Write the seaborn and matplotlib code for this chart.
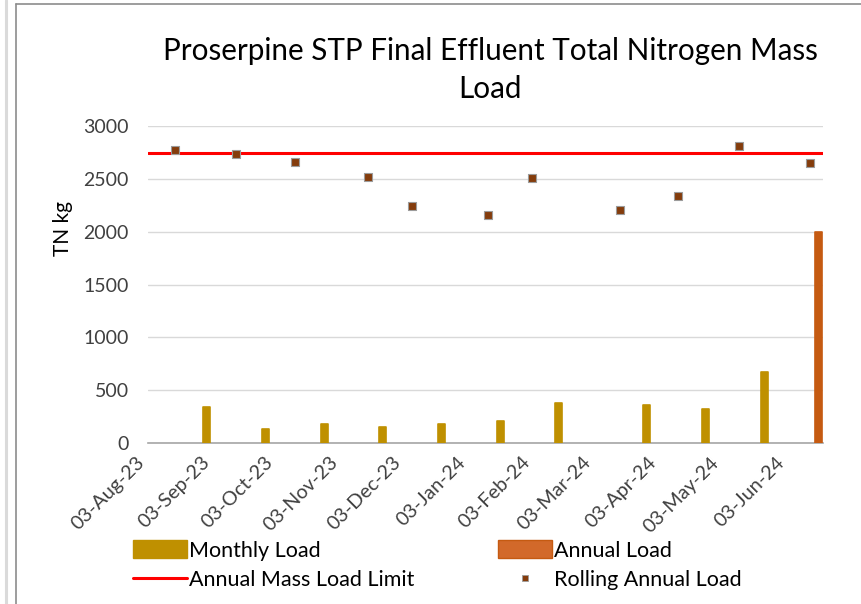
import matplotlib
matplotlib.use("Agg")
import matplotlib.pyplot as plt
import matplotlib.dates as mdates
import matplotlib.transforms as mtransforms
from matplotlib.lines import Line2D
from matplotlib.patches import Patch
import pandas as pd
import seaborn as sns

# monthly loads (TN kg)
monthly_dates = ["2023-08-31", "2023-09-28", "2023-10-26", "2023-11-23", "2023-12-21",
                 "2024-01-18", "2024-02-15", "2024-03-28", "2024-04-25", "2024-05-23"]
monthly_load = [344, 130, 183, 149, 183, 211, 376, 357, 325, 672]

# annual load
annual_dates = ["2024-06-18"]
annual_load = [2000]

# rolling annual load
rolling_dates = ["2023-08-16", "2023-09-14", "2023-10-12", "2023-11-16", "2023-12-07",
                 "2024-01-12", "2024-02-02", "2024-03-15", "2024-04-12", "2024-05-11",
                 "2024-06-14"]
rolling_load = [2773, 2732, 2659, 2517, 2240, 2155, 2505, 2208, 2340, 2813, 2650]

annual_limit = 2740

x_start = "2023-08-03"
x_end = "2024-06-20"
y_ticks = [0, 500, 1000, 1500, 2000, 2500, 3000]

sns.set_style("white")
plt.rcParams["font.family"] = ["Lato", "DejaVu Sans"]

gold = "#BF9000"
orange = "#C55A11"
brown = "#843C0C"
txt = "#404040"

fig = plt.figure(figsize=(8.62, 6.04), dpi=100)
ax = fig.add_axes([148 / 862, 1 - 443 / 604, (823 - 148) / 862, (443 - 126) / 604])

monthly = pd.DataFrame({"date": pd.to_datetime(monthly_dates), "load": monthly_load})
annual = pd.DataFrame({"date": pd.to_datetime(annual_dates), "load": annual_load})
rolling = pd.DataFrame({"date": pd.to_datetime(rolling_dates), "load": rolling_load})

ax.bar(monthly["date"], monthly["load"], width=3.4, color=gold, edgecolor=gold,
       linewidth=1.2, joinstyle="round", zorder=3)
ax.bar(annual["date"], annual["load"], width=3.4, color=orange, edgecolor=orange,
       linewidth=1.2, joinstyle="round", zorder=3)
ax.axhline(annual_limit, color="#FF0000", linewidth=2.2, zorder=4)
sns.scatterplot(data=rolling, x="date", y="load", ax=ax, marker="s", s=30,
                color=brown, edgecolor="#9C9C9C", linewidth=0.8, zorder=5, legend=False)

ax.set_xlim(pd.Timestamp(x_start), pd.Timestamp(x_end))
ax.set_ylim(0, 3000)
ax.set_yticks(y_ticks)
ax.yaxis.grid(True, color="#D9D9D9", linewidth=1)
ax.set_axisbelow(True)
for s in ["left", "top", "right"]:
    ax.spines[s].set_visible(False)
ax.spines["bottom"].set_color("#A6A6A6")
ax.spines["bottom"].set_linewidth(1.2)
ax.spines["bottom"].set_zorder(2)

xt = pd.date_range(x_start, periods=11, freq=pd.DateOffset(months=1))
ax.set_xticks(xt)
ax.xaxis.set_major_formatter(mdates.DateFormatter("%d-%b-%y"))
ax.tick_params(axis="x", length=0, pad=12, labelsize=14.2, labelcolor=txt)
ax.tick_params(axis="y", length=0, pad=14, labelsize=14, labelcolor=txt)
shift = mtransforms.ScaledTranslation(-6 / 100, 0, fig.dpi_scale_trans)
for lab in ax.get_xticklabels():
    lab.set_rotation(45)
    lab.set_ha("right")
    lab.set_va("center")
    lab.set_rotation_mode("anchor")
    lab.set_transform(lab.get_transform() + shift)

ax.set_xlabel("")
ax.set_ylabel("")
fig.text(63 / 862, 1 - 229 / 604, "TN kg", rotation=90, ha="center", va="center",
         fontsize=15, color="black")

fig.text(490 / 862, 1 - 70 / 604, "Proserpine STP Final Effluent Total Nitrogen Mass\nLoad",
         ha="center", va="center", multialignment="center", fontsize=21.3,
         color="black", linespacing=1.4)

handles = [
    Patch(facecolor=gold, edgecolor=gold),
    Line2D([], [], color="#FF0000", linewidth=2.2),
    Patch(facecolor="#D2692A", edgecolor=orange),
    Line2D([], [], linestyle="none", marker="s", markersize=5,
           markerfacecolor=brown, markeredgecolor="#9C9C9C", markeredgewidth=0.6),
]
labels = ["Monthly Load", "Annual Mass Load Limit", "Annual Load", "Rolling Annual Load"]
fig.legend(handles, labels, ncol=2, loc="upper left",
           bbox_to_anchor=(133 / 862, 1 - 540 / 604), frameon=False,
           fontsize=15.5, handlelength=2.5, handleheight=0.93, handletextpad=0.1,
           columnspacing=3.9, labelspacing=0.43, borderpad=0, borderaxespad=0,
           labelcolor="black")

# outer frame as in the source screenshot
fig.add_artist(Line2D([6.5 / 862, 6.5 / 862], [0, 1], transform=fig.transFigure,
                      color="#DADADA", linewidth=2.2))
fig.add_artist(Line2D([16 / 862, 16 / 862], [0, 1 - 4 / 604], transform=fig.transFigure,
                      color="#8C8C8C", linewidth=1.2))
fig.add_artist(Line2D([16 / 862, 1], [1 - 4 / 604, 1 - 4 / 604], transform=fig.transFigure,
                      color="#8C8C8C", linewidth=1.2))

fig.savefig("out.png", dpi=100)
plt.close(fig)
